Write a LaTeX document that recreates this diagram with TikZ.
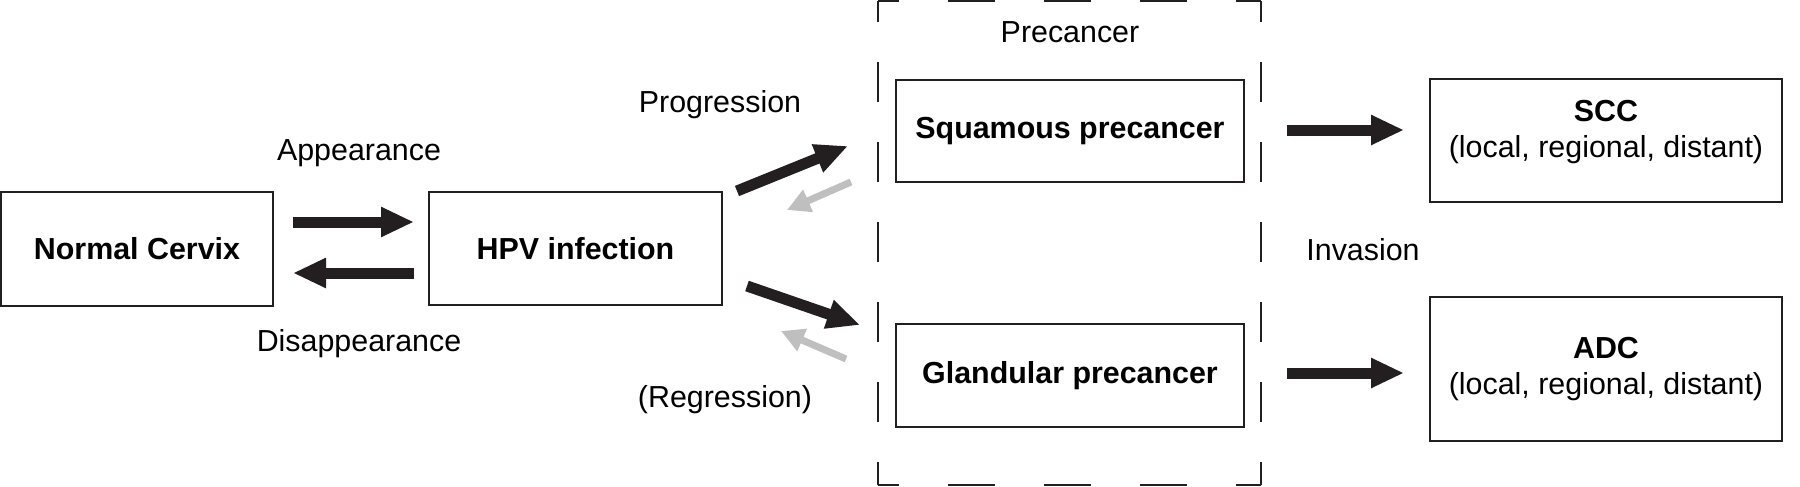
\documentclass[tikz,border=0pt]{standalone}
\usepackage{fontspec}
\setmainfont{Liberation Sans}
\usetikzlibrary{arrows.meta}
\definecolor{ink}{HTML}{231F20}
\definecolor{lightarrow}{HTML}{BFBFBF}
\begin{document}
\begin{tikzpicture}[x=0.5pt,y=-0.5pt,
  every node/.style={font=\fontsize{15.2pt}{18pt}\selectfont, inner sep=0pt},
  box/.style={draw=ink, line width=1.3pt, minimum width=#1},
  box/.default=174pt,
  bigarrow/.style={draw=ink, line width=5.5pt, -{Triangle[length=16.5pt,width=14pt]}},
  backarrow/.style={draw=lightarrow, line width=3.5pt, -{Triangle[length=11.5pt,width=11.5pt]}},
  lbl/.style={align=center}
]
\useasboundingbox (0,0) rectangle (1800,487);
% boxes
\node[box=136pt, minimum height=57pt] (normal) at (137,249) {\textbf{Normal Cervix}};
\node[box=146.5pt, minimum height=56.5pt] (hpv) at (575.5,248.5) {\textbf{HPV infection}};
\node[box=174pt, minimum height=51pt] (squam) at (1070,131) {\textbf{Squamous precancer}};
\node[box=174pt, minimum height=51.5pt] (gland) at (1070,375.5) {\textbf{Glandular precancer}};
\node[box=176pt, minimum height=61.5pt] (scc) at (1606,140.5) {};
\node[box=176pt, minimum height=72pt] (adc) at (1606,369) {};
\node[lbl] (scctext) at (1606,132) {\textbf{SCC}\\(local, regional, distant)};
\node[lbl] (adctext) at (1606,369) {\textbf{ADC}\\(local, regional, distant)};
% dashed precancer frame
\draw[ink, line width=1pt, dash pattern=on 23.5pt off 24.5pt, dash phase=13pt] (878,1) -- (1261,1);
\draw[ink, line width=1pt, dash pattern=on 23.5pt off 24.5pt, dash phase=13pt] (878,485) -- (1261,485);
\draw[ink, line width=1pt, dash pattern=on 20pt off 20pt, dash phase=9.5pt] (878,1) -- (878,485);
\draw[ink, line width=1pt, dash pattern=on 20pt off 20pt, dash phase=9.5pt] (1261,1) -- (1261,485);
% labels
\node (precancer) at (1070,32) {Precancer};
\node (appear) at (359,153) {Appearance};
\node (disappear) at (359,344) {Disappearance};
\node (progress) at (720,105) {Progression};
\node (regress) at (725,400) {(Regression)};
\node (invasion) at (1363,250) {Invasion};
% arrow end points
\coordinate (a1s) at (293,222); \coordinate (a1e) at (414,222);
\coordinate (a2s) at (414,273); \coordinate (a2e) at (293,273);
\coordinate (p1s) at (737,191); \coordinate (p1e) at (848,146);
\coordinate (p2s) at (747,286); \coordinate (p2e) at (860,325);
\coordinate (r1s) at (851,182); \coordinate (r1e) at (787,210);
\coordinate (r2s) at (846,359); \coordinate (r2e) at (781,331);
\coordinate (i1s) at (1287,130); \coordinate (i1e) at (1404,130);
\coordinate (i2s) at (1287,373); \coordinate (i2e) at (1404,373);
\draw[bigarrow] (a1s) -- (a1e);
\draw[bigarrow] (a2s) -- (a2e);
\draw[bigarrow] (p1s) -- (p1e);
\draw[bigarrow] (p2s) -- (p2e);
\draw[backarrow] (r1s) -- (r1e);
\draw[backarrow] (r2s) -- (r2e);
\draw[bigarrow] (i1s) -- (i1e);
\draw[bigarrow] (i2s) -- (i2e);
\end{tikzpicture}
\end{document}
